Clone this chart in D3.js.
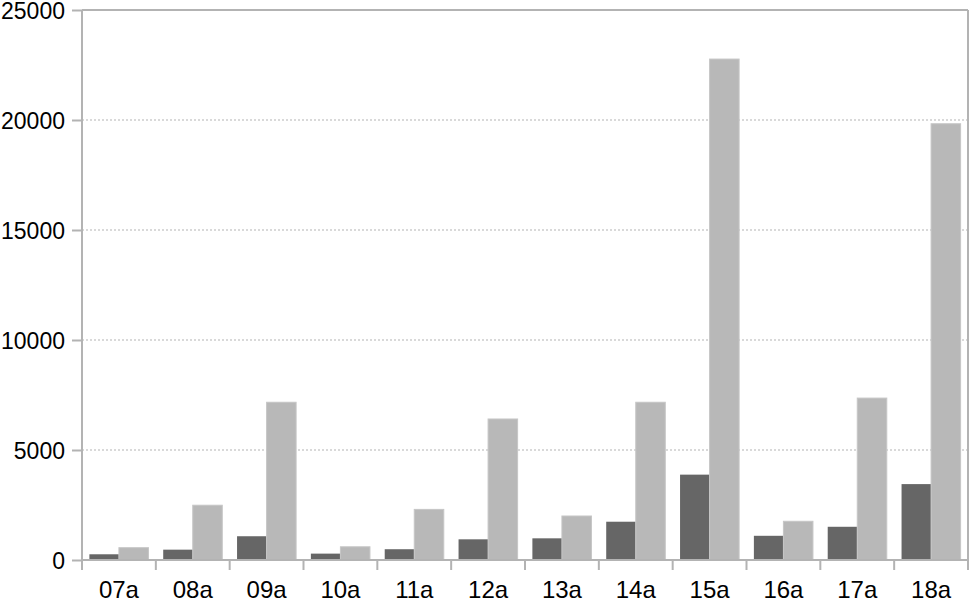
<!DOCTYPE html>
<html><head><meta charset="utf-8">
<script src="https://cdn.jsdelivr.net/npm/d3@7"></script>
<style>body{margin:0;background:#fff}svg{display:block}text{font-family:"Liberation Sans",Arial,sans-serif}</style>
</head><body><svg id="c" width="970" height="600"></svg>
<script>
const categories = ["07a","08a","09a","10a","11a","12a","13a","14a","15a","16a","17a","18a"];
const seriesDark = [260,470,1080,290,490,940,985,1740,3880,1100,1510,3450];
const seriesLight = [560,2490,7170,600,2300,6410,2000,7170,22770,1760,7360,19830];
const yTicks = [0,5000,10000,15000,20000,25000];

(function(){
const svg = d3.select("#c");
const pL = 82, pR = 968, pT = 10, pB = 560;
const x = d3.scaleBand().domain(categories).range([pL, pR]).paddingInner(0).paddingOuter(0);
const y = d3.scaleLinear().domain([0,25000]).range([pB, pT]);
const inner = d3.scaleBand().domain(["d","l"]).range([0, x.bandwidth()]).paddingOuter(0.25).paddingInner(0);
const axisColor = "#b3b3b3";

// gridlines
svg.append("g").selectAll("line").data(yTicks.filter(d=>d>0 && d<25000)).join("line")
  .attr("x1", pL).attr("x2", pR).attr("y1", d=>y(d)).attr("y2", d=>y(d))
  .attr("stroke", axisColor).attr("stroke-width", 1.2).attr("stroke-dasharray", "2,2");

// frame top & right
svg.append("line").attr("x1", pL).attr("x2", pR).attr("y1", y(25000)).attr("y2", y(25000)).attr("stroke", axisColor).attr("stroke-width", 2);
svg.append("line").attr("x1", pR).attr("x2", pR).attr("y1", pT).attr("y2", pB).attr("stroke", axisColor).attr("stroke-width", 2);

// bars
const g = svg.append("g");
categories.forEach((c,i)=>{
  g.append("rect").attr("x", x(c)+inner("d")).attr("width", inner.bandwidth())
    .attr("y", y(seriesDark[i])).attr("height", y(0)-y(seriesDark[i])).attr("fill", "#666666");
  g.append("rect").attr("x", x(c)+inner("l")).attr("width", inner.bandwidth())
    .attr("y", y(seriesLight[i])).attr("height", y(0)-y(seriesLight[i])).attr("fill", "#b8b8b8")
    .attr("stroke", "#c6c6c6").attr("stroke-width", 1);
});

// y axis
const ya = svg.append("g").attr("transform", `translate(${pL},0)`)
  .call(d3.axisLeft(y).tickValues(yTicks).tickSize(10).tickPadding(7).tickFormat(d3.format("d")));
ya.select(".domain").attr("stroke", axisColor).attr("stroke-width", 2).attr("d", `M0,${pT}V${pB}`);
ya.selectAll(".tick line").attr("stroke", axisColor).attr("stroke-width", 2);
ya.selectAll(".tick text").attr("font-size", 23).attr("fill", "#000").attr("dy", "0.36em");

// x axis
const xa = svg.append("g").attr("transform", `translate(0,${pB})`)
  .call(d3.axisBottom(x).tickSize(0));
xa.select(".domain").attr("stroke", axisColor).attr("stroke-width", 2).attr("d", `M${pL},0H${pR}`);
xa.selectAll(".tick text").attr("font-size", 24).attr("fill", "#000").attr("y", 38).attr("dy", 0);
// category boundary ticks
xa.append("g").selectAll("line").data(d3.range(categories.length+1)).join("line")
  .attr("x1", i=>pL + i*x.step()).attr("x2", i=>pL + i*x.step())
  .attr("y1", 0).attr("y2", 10).attr("stroke", axisColor).attr("stroke-width", 2);
})();
</script></body></html>
